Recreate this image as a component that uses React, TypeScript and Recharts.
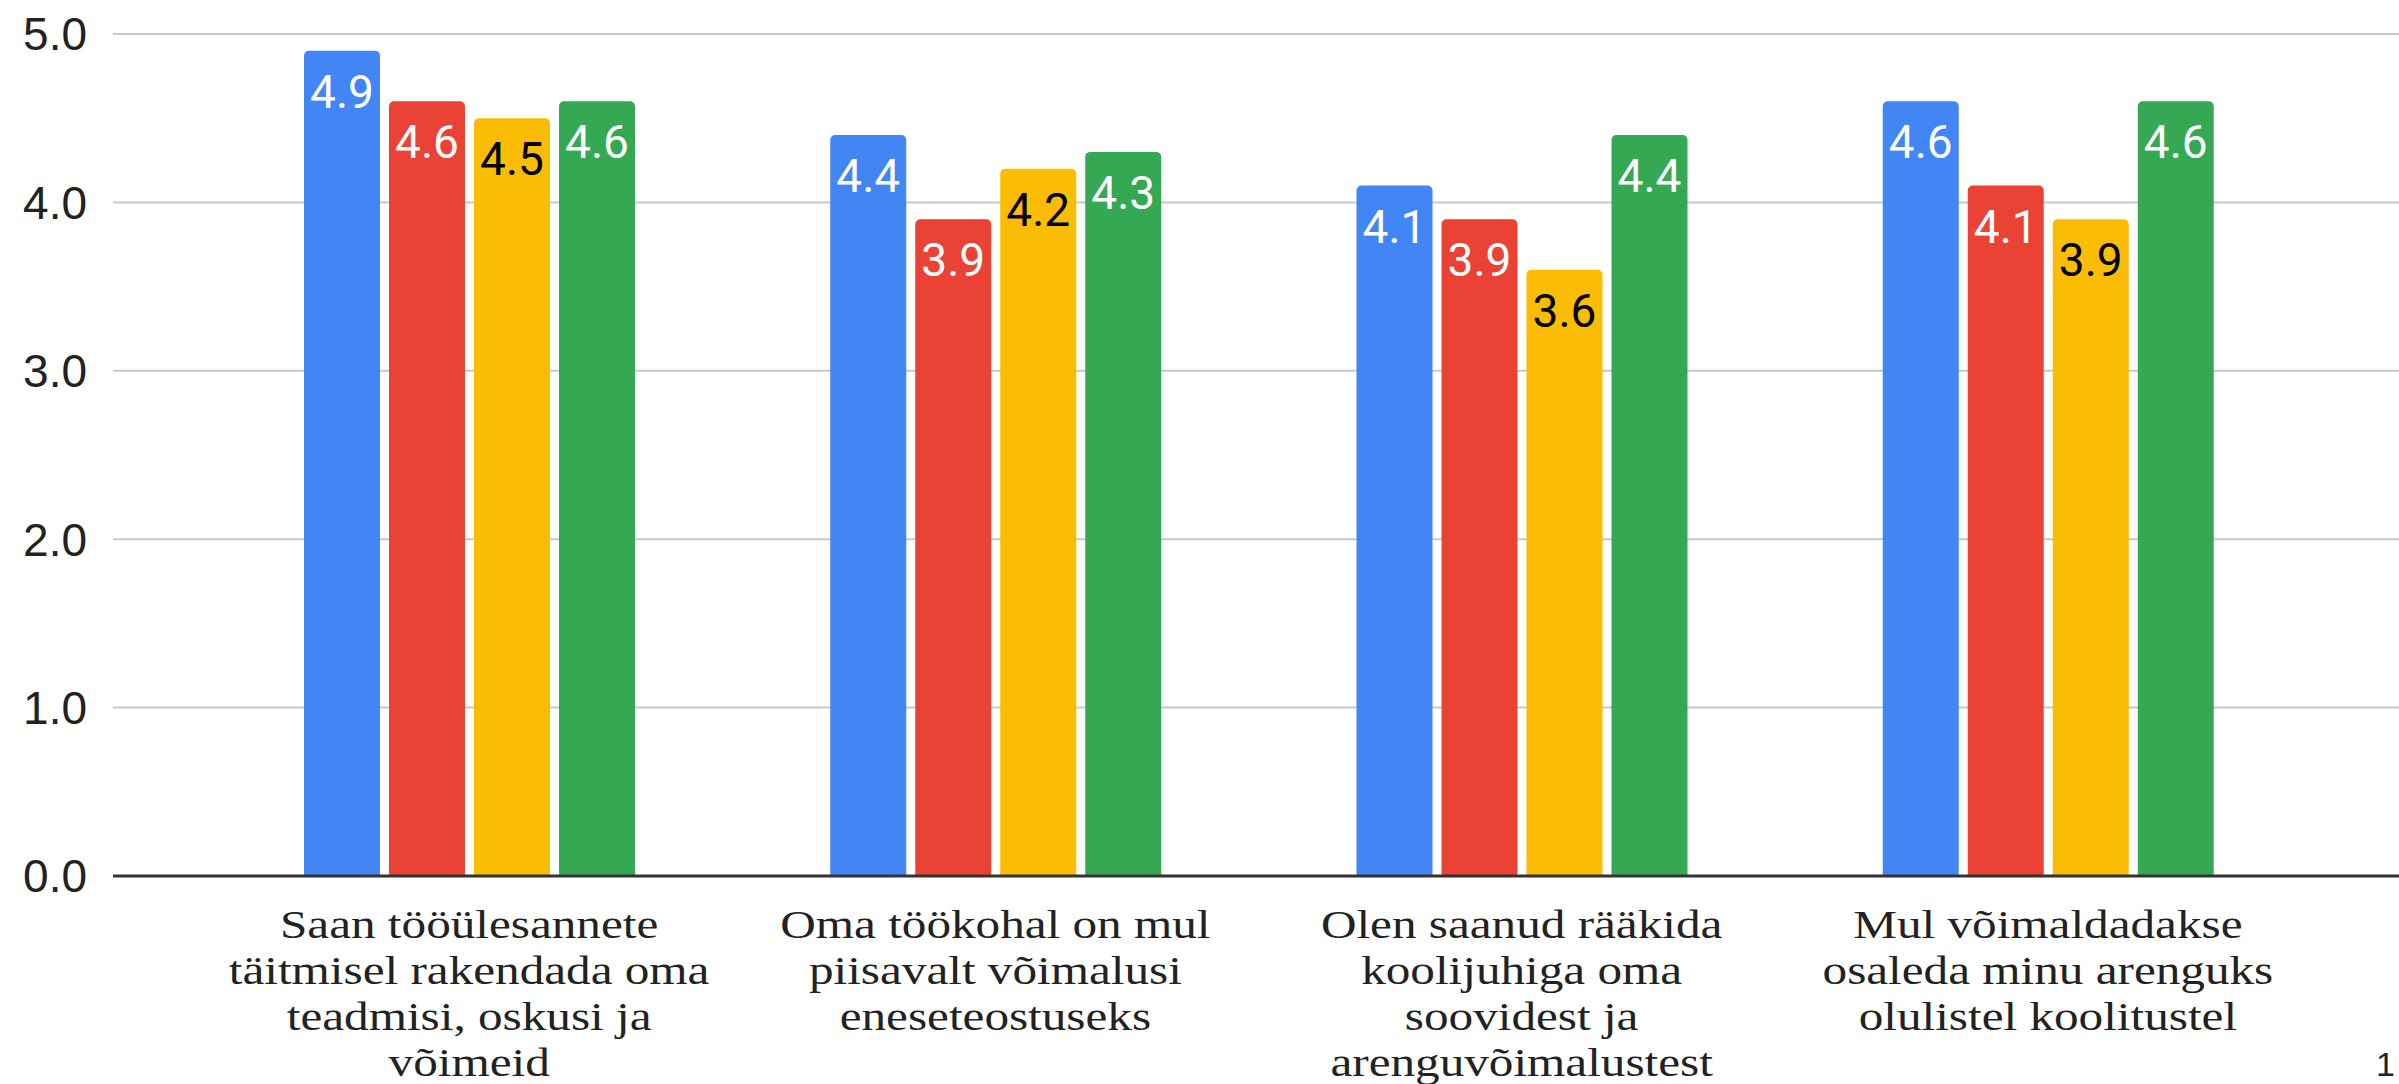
import { Bar, BarChart, CartesianGrid, LabelList, XAxis, YAxis } from 'recharts';

const categories = [
  'Saan tööülesannete täitmisel rakendada oma teadmisi, oskusi ja võimeid',
  'Oma töökohal on mul piisavalt võimalusi eneseteostuseks',
  'Olen saanud rääkida koolijuhiga oma soovidest ja arenguvõimalustest',
  'Mul võimaldadakse osaleda minu arenguks olulistel koolitustel',
];

// wrapped the same way as on the picture
const categoryLines = [
  ['Saan tööülesannete', 'täitmisel rakendada oma', 'teadmisi, oskusi ja', 'võimeid'],
  ['Oma töökohal on mul', 'piisavalt võimalusi', 'eneseteostuseks'],
  ['Olen saanud rääkida', 'koolijuhiga oma', 'soovidest ja', 'arenguvõimalustest'],
  ['Mul võimaldadakse', 'osaleda minu arenguks', 'olulistel koolitustel'],
];

const blueValues = [4.9, 4.4, 4.1, 4.6];
const redValues = [4.6, 3.9, 3.9, 4.1];
const yellowValues = [4.5, 4.2, 3.6, 3.9];
const greenValues = [4.6, 4.3, 4.4, 4.6];

const yTicks = [0, 1, 2, 3, 4, 5];

const SERIES = [
  { key: 's1', values: blueValues, color: '#4285F4', text: '#ffffff' },
  { key: 's2', values: redValues, color: '#EA4335', text: '#ffffff' },
  { key: 's3', values: yellowValues, color: '#FBBC04', text: '#000000' },
  { key: 's4', values: greenValues, color: '#34A853', text: '#ffffff' },
];

const rows = categories.map((category, i) => {
  const row: Record<string, string | number> = { category };
  SERIES.forEach((s) => {
    row[s.key] = s.values[i];
  });
  return row;
});

const SANS = '"Liberation Sans", Arial, sans-serif';
const SERIF = '"Liberation Serif", "Times New Roman", serif';

// the source screenshot is stretched sideways, so the serif labels are widened a bit
function CategoryTick({ x, y, payload }: { x?: number; y?: number; payload?: { value: string } }) {
  const idx = categories.indexOf(payload?.value ?? '');
  const lines = categoryLines[idx] ?? [payload?.value ?? ''];
  return (
    <g transform={`translate(${x},${y}) scale(1.2,1)`}>
      <text x={0} y={0} textAnchor="middle" fontFamily={SERIF} fontSize={41} fill="#222">
        {lines.map((line, i) => (
          <tspan key={i} x={0} dy={i === 0 ? 62 : 46}>
            {line}
          </tspan>
        ))}
      </text>
    </g>
  );
}

function valueLabel(halo: string, fill: string) {
  return function ValueLabel(props: any) {
    const { x, y, width, value } = props;
    return (
      <text
        x={Number(x) + Number(width) / 2}
        y={Number(y) + 57}
        textAnchor="middle"
        fontFamily='Roboto, "Liberation Sans", sans-serif'
        fontSize={46}
        fill={fill}
        stroke={halo}
        strokeWidth={7}
        strokeLinejoin="round"
        paintOrder="stroke"
      >
        {Number(value).toFixed(1)}
      </text>
    );
  };
}

export default function App() {
  return (
    <div style={{ position: 'relative', width: 2399, height: 1084, overflow: 'hidden', background: '#fff' }}>
      <style>{'body{margin:0;overflow:hidden}'}</style>
      <BarChart
        width={2399}
        height={1084}
        data={rows}
        margin={{ top: 34, right: 0, bottom: 0, left: 0 }}
        barGap={9}
        barSize={76}
      >
        <CartesianGrid stroke="#c8c8c8" strokeWidth={2} vertical={false} />
        <XAxis
          dataKey="category"
          height={208}
          interval={0}
          padding={{ left: 93, right: 88 }}
          axisLine={{ stroke: '#333', strokeWidth: 3 }}
          tickLine={false}
          tickSize={0}
          tickMargin={0}
          tick={<CategoryTick />}
        />
        <YAxis
          width={113}
          domain={[0, 5]}
          ticks={yTicks}
          axisLine={false}
          tickLine={false}
          tickSize={0}
          tickMargin={26}
          tickFormatter={(v: number) => v.toFixed(1)}
          tick={{ fontFamily: SANS, fontSize: 46, fill: '#222' }}
        />
        {SERIES.map((s) => (
          <Bar key={s.key} dataKey={s.key} fill={s.color} radius={[5, 5, 0, 0]} isAnimationActive={false}>
            <LabelList dataKey={s.key} content={valueLabel(s.color, s.text)} />
          </Bar>
        ))}
      </BarChart>
      <div
        style={{
          position: 'absolute',
          left: 2376,
          top: 1046,
          fontFamily: SANS,
          fontSize: 34,
          lineHeight: '36px',
          color: '#222',
        }}
      >
        1
      </div>
    </div>
  );
}
